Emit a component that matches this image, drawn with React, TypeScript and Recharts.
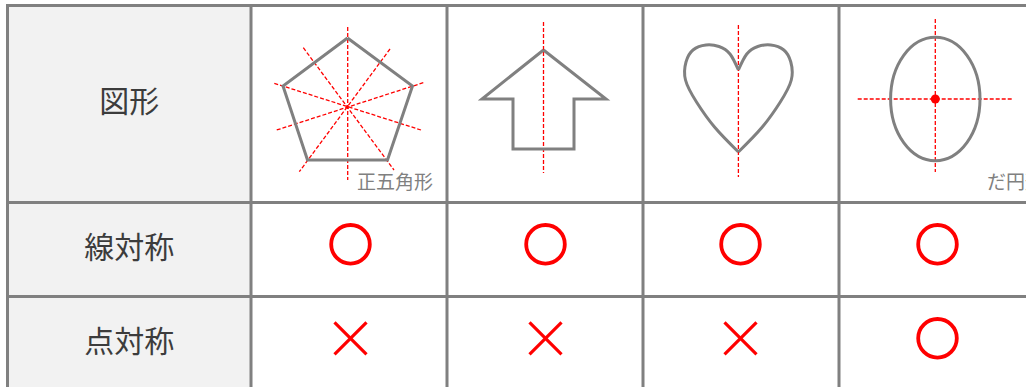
import { ComposedChart, XAxis, YAxis, Scatter, ReferenceLine, ReferenceArea, ReferenceDot } from "recharts";

// table frame (pixel-like data units)
const colLines = [7.5, 251, 447, 643, 839];
const rowLines = [5.5, 202.5, 296.5];
const rowLabels = ["図形", "線対称", "点対称"];
const rowLabelY = [101.5, 247, 341];
const colCenters = [350.5, 545.5, 740.5, 937.5];
const lineSymmetric = [true, true, true, true];
const pointSymmetric = [false, false, false, true];
const markRowY = [244.3, 338.3];

// shapes
const pentagon = [
  { x: 347.5, y: 38 },
  { x: 412.5, y: 86 },
  { x: 387.5, y: 160 },
  { x: 307.5, y: 160 },
  { x: 283, y: 86 },
  { x: 347.5, y: 38 },
];
const pentagonAxes = [
  [{ x: 347.7, y: 27 }, { x: 347.7, y: 180 }],
  [{ x: 303.3, y: 47.7 }, { x: 394, y: 170 }],
  [{ x: 390, y: 49 }, { x: 299.3, y: 171.7 }],
  [{ x: 274.3, y: 83.3 }, { x: 421, y: 130 }],
  [{ x: 423.3, y: 82.7 }, { x: 276.7, y: 130 }],
];
const arrow = [
  { x: 543.5, y: 50 },
  { x: 606, y: 99 },
  { x: 574, y: 99 },
  { x: 574, y: 149 },
  { x: 513, y: 149 },
  { x: 513, y: 99 },
  { x: 482, y: 99 },
  { x: 543.5, y: 50 },
];
const arrowAxis = [{ x: 543.5, y: 22 }, { x: 543.5, y: 173 }];
const heartLeft = [
  { x: 738.4, y: 152 },
  { x: 714.5, y: 127 },
  { x: 696.5, y: 102 },
  { x: 685.5, y: 80 },
  { x: 686, y: 62 },
  { x: 693, y: 50 },
  { x: 706, y: 45 },
  { x: 719, y: 46.5 },
  { x: 730, y: 54 },
  { x: 738.4, y: 70 },
];
const heartRight = [
  { x: 738.4, y: 152 },
  { x: 762.3, y: 127 },
  { x: 780.3, y: 102 },
  { x: 791.3, y: 80 },
  { x: 790.8, y: 62 },
  { x: 783.8, y: 50 },
  { x: 770.8, y: 45 },
  { x: 757.8, y: 46.5 },
  { x: 746.8, y: 54 },
  { x: 738.4, y: 70 },
];
const heartAxis = [{ x: 738.4, y: 25 }, { x: 738.4, y: 177 }];
const ellipseCenter = [{ x: 935.3, y: 99 }];
const ellipseAxes = [
  [{ x: 935.3, y: 19 }, { x: 935.3, y: 172 }],
  [{ x: 857.7, y: 99 }, { x: 1012, y: 99 }],
];
const shapeNames = [
  { x: 357, y: 182, name: "正五角形" },
  { x: 987, y: 182, name: "だ円形" },
];

const GRID = "#808080";
const RED = "#ff0000";

const circleMarks = colCenters
  .map((x, i) => [
    lineSymmetric[i] ? { x, y: markRowY[0] } : null,
    pointSymmetric[i] ? { x, y: markRowY[1] } : null,
  ])
  .flat()
  .filter(Boolean);
const crossMarks = colCenters
  .map((x, i) => (pointSymmetric[i] ? null : { x, y: markRowY[1] }))
  .filter(Boolean);

const NoShape = () => <g />;
const RingShape = (p: any) => (
  <circle cx={p.cx} cy={p.cy} r={19.3} fill="none" stroke={RED} strokeWidth={3.8} />
);
const CrossShape = (p: any) => (
  <g stroke={RED} strokeWidth={3.2}>
    <line x1={p.cx - 16} y1={p.cy - 16} x2={p.cx + 16} y2={p.cy + 16} />
    <line x1={p.cx + 16} y1={p.cy - 16} x2={p.cx - 16} y2={p.cy + 16} />
  </g>
);
const EllipseShape = (p: any) => (
  <ellipse cx={p.cx} cy={p.cy} rx={44.7} ry={61.7} fill="none" stroke={GRID} strokeWidth={3} />
);
const outline = { stroke: GRID, strokeWidth: 3, strokeLinejoin: "miter" as const, fill: "none" };

export default function App() {
  return (
    <div
      style={{
        position: "fixed",
        left: 0,
        top: 0,
        width: 1026,
        height: 387,
        background: "#fff",
        fontFamily: "'Noto Sans CJK JP', 'Noto Sans', sans-serif",
      }}
    >
      <ComposedChart width={1026} height={387} margin={{ top: 0, right: 0, bottom: 0, left: 0 }}>
        <XAxis type="number" dataKey="x" domain={[0, 1026]} allowDataOverflow hide />
        <YAxis type="number" dataKey="y" domain={[0, 387]} reversed allowDataOverflow hide />

        <ReferenceArea x1={colLines[0]} x2={colLines[1]} y1={rowLines[0]} y2={387} fill="#f2f2f2" fillOpacity={1} stroke="none" />

        <Scatter data={pentagon} line={outline} lineJointType="linear" shape={NoShape} isAnimationActive={false} />
        <Scatter data={arrow} line={outline} lineJointType="linear" shape={NoShape} isAnimationActive={false} />
        <Scatter data={heartLeft} line={outline} lineJointType="natural" shape={NoShape} isAnimationActive={false} />
        <Scatter data={heartRight} line={outline} lineJointType="natural" shape={NoShape} isAnimationActive={false} />
        <Scatter data={ellipseCenter} shape={EllipseShape} isAnimationActive={false} />

        {pentagonAxes.concat([arrowAxis, heartAxis], ellipseAxes).map((seg, i) => (
          <ReferenceLine key={"ax" + i} segment={seg} stroke={RED} strokeWidth={1.3} strokeDasharray="4 2" />
        ))}
        <ReferenceDot x={ellipseCenter[0].x} y={ellipseCenter[0].y} r={4.5} fill={RED} stroke="none" />

        <Scatter data={circleMarks} shape={RingShape} isAnimationActive={false} />
        <Scatter data={crossMarks} shape={CrossShape} isAnimationActive={false} />

        {colLines.map((x, i) => (
          <ReferenceLine key={"v" + i} segment={[{ x, y: 4 }, { x, y: 387 }]} stroke={GRID} strokeWidth={3} />
        ))}
        {rowLines.map((y, i) => (
          <ReferenceLine key={"h" + i} segment={[{ x: 6, y }, { x: 1026, y }]} stroke={GRID} strokeWidth={3} />
        ))}

        {rowLabels.map((t, i) => (
          <ReferenceDot
            key={"r" + i}
            x={(colLines[0] + colLines[1]) / 2}
            y={rowLabelY[i]}
            r={0}
            stroke="none"
            label={{ value: t, position: "center", fill: "#3c3c3c", fontSize: 30 }}
          />
        ))}
        {shapeNames.map((s, i) => (
          <ReferenceDot
            key={"n" + i}
            x={s.x}
            y={s.y}
            r={0}
            stroke="none"
            label={{ value: s.name, position: "right", offset: 0, fill: "#808080", fontSize: 19 }}
          />
        ))}
      </ComposedChart>
    </div>
  );
}
